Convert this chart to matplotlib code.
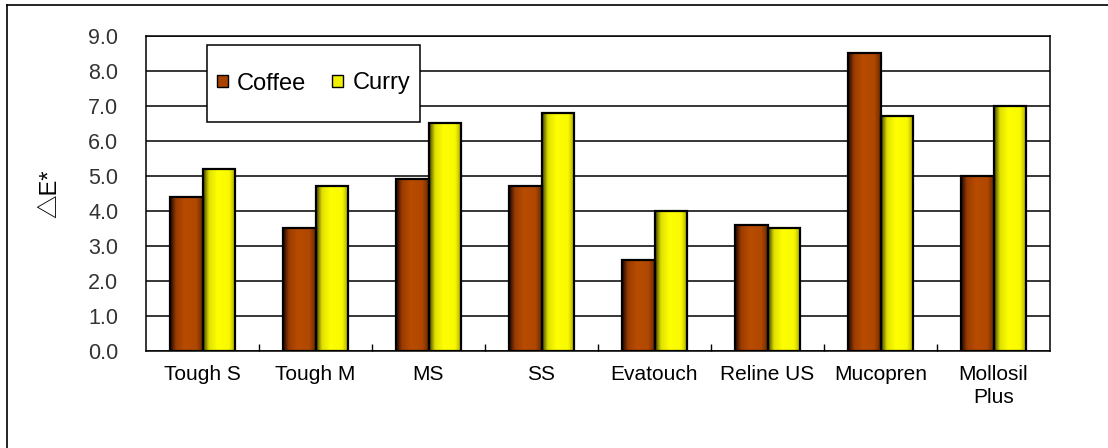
import matplotlib
matplotlib.use('Agg')
import matplotlib.pyplot as plt
import numpy as np
from matplotlib.colors import LinearSegmentedColormap
from matplotlib.patches import Rectangle
from matplotlib.lines import Line2D

plt.rcParams['font.family'] = ['Liberation Sans', 'Noto Sans CJK JP', 'DejaVu Sans']

# data
categories = ['Tough S', 'Tough M', 'MS', 'SS', 'Evatouch', 'Reline US', 'Mucopren', 'Mollosil\nPlus']
coffee = [4.4, 3.5, 4.9, 4.7, 2.6, 3.6, 8.5, 5.0]
curry = [5.2, 4.7, 6.5, 6.8, 4.0, 3.5, 6.7, 7.0]
yticks = np.arange(0, 9.01, 1.0)

# gradient maps (left dark -> bright -> slightly darker right)
cm_coffee = LinearSegmentedColormap.from_list('coffee', [(0, '#1a0400'), (0.18, '#9a3c00'), (0.45, '#b84c00'), (0.8, '#b04800'), (1, '#6a2a00')])
cm_curry = LinearSegmentedColormap.from_list('curry', [(0, '#3a3a00'), (0.18, '#e0e000'), (0.45, '#ffff00'), (0.8, '#f8f800'), (1, '#a0a000')])

fig = plt.figure(figsize=(11.08, 4.48), dpi=100)
ax = fig.add_axes([146/1108, 1-351/448, (1050-146)/1108, (351-36)/448])

x = np.arange(len(categories))
w = 0.29
grad = np.linspace(0, 1, 256).reshape(1, -1)

def grad_bars(xs, vals, cmap):
    bars = ax.bar(xs, vals, w, facecolor='none', edgecolor='black', linewidth=1.6, zorder=4)
    for b in bars:
        x0, y0 = b.get_x(), b.get_y()
        im = ax.imshow(grad, cmap=cmap, aspect='auto', extent=[x0, x0 + b.get_width(), y0, y0 + b.get_height()],
                       zorder=3, interpolation='bicubic')
        im.set_clip_path(b)
    return bars

grad_bars(x - w/2, coffee, cm_coffee)
grad_bars(x + w/2, curry, cm_curry)

ax.set_xlim(-0.5, len(categories) - 0.5)
ax.set_ylim(0, 9)
ax.set_yticks(yticks)
ax.set_yticklabels(['%.1f' % v for v in yticks], fontsize=15.5, color='#333333')
ax.yaxis.grid(True, color='black', linewidth=1.1, zorder=1)
ax.set_axisbelow(True)
ax.tick_params(axis='y', length=0, pad=20)

ax.set_xticks(x)
ax.set_xticklabels(categories, fontsize=15, linespacing=1.3)
ax.set_xticks(np.arange(0.5, len(categories) - 1), minor=True)
ax.tick_params(axis='x', which='major', length=0, pad=10)
ax.tick_params(axis='x', which='minor', direction='in', length=5, width=1)

for s in ax.spines.values():
    s.set_linewidth(1.1)
    s.set_color('black')

ax.set_ylabel('△E*', fontsize=17, labelpad=19)

# legend box drawn by hand, entries centred inside
bx0, bx1 = (207-146)/904, (420-146)/904
by0, by1 = (351-122)/315, (351-45)/315
ax.add_patch(Rectangle((bx0, by0), bx1 - bx0, by1 - by0, transform=ax.transAxes,
                       facecolor='white', edgecolor='black', linewidth=1.1, zorder=9))
handles = [Rectangle((0, 0), 1, 1, facecolor='#a84400', edgecolor='black', linewidth=1),
           Rectangle((0, 0), 1, 1, facecolor='#f0f000', edgecolor='black', linewidth=1)]
leg = ax.legend(handles, ['Coffee', 'Curry'], ncol=2, loc='center',
                bbox_to_anchor=((bx0 + bx1)/2, (by0 + by1)/2), borderaxespad=0,
                fontsize=17, frameon=False, borderpad=0,
                handlelength=0.45, handleheight=0.45,
                handletextpad=0.4, columnspacing=1.1)
leg.set_zorder(10)

# outer frame (top and left visible)
fig.add_artist(Line2D([7/1108, 1], [1-5/448, 1-5/448], color='black', linewidth=1.2))
fig.add_artist(Line2D([7/1108, 7/1108], [0, 1-5/448], color='black', linewidth=1.2))

fig.savefig('out.png', dpi=100)
